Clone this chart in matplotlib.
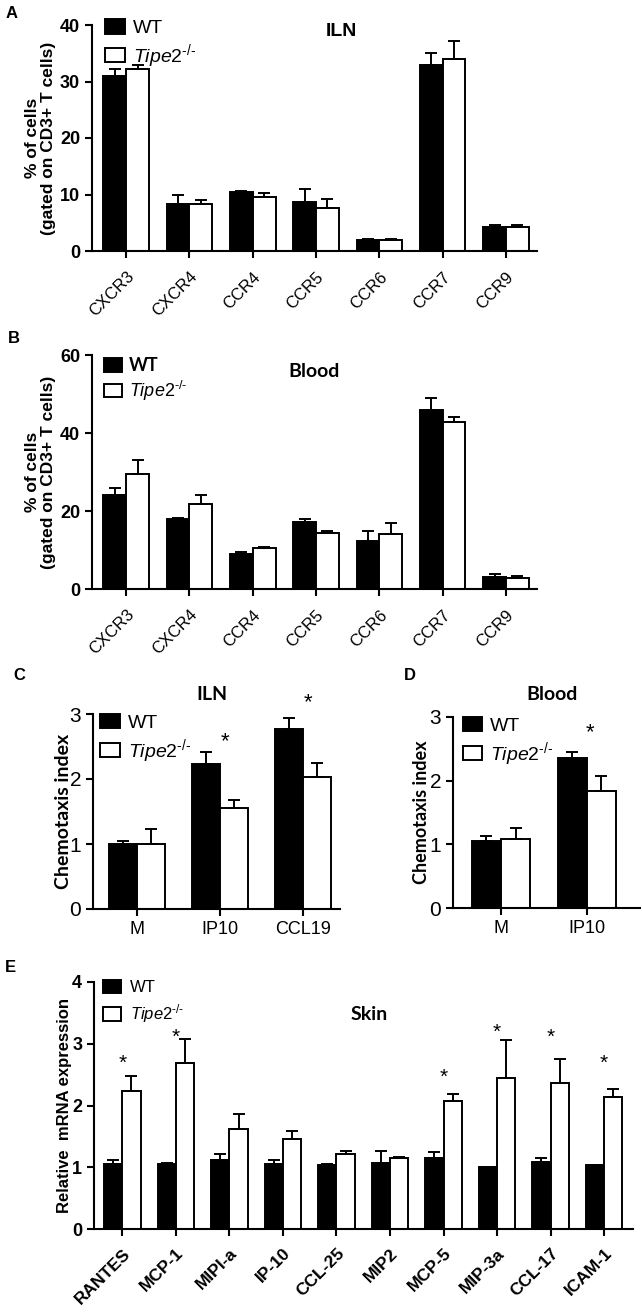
import matplotlib
matplotlib.use("Agg")
import matplotlib.pyplot as plt
import numpy as np

plt.rcParams['mathtext.fontset'] = 'custom'
plt.rcParams['mathtext.it'] = 'Liberation Sans:italic'
plt.rcParams['mathtext.rm'] = 'Liberation Sans'
plt.rcParams['mathtext.bf'] = 'Liberation Sans:bold'

NARROW = ['Liberation Sans Narrow', 'Liberation Sans', 'DejaVu Sans']
ARIAL = ['Liberation Sans', 'DejaVu Sans']
CALIBRI = ['Lato', 'Liberation Sans', 'DejaVu Sans']

# ---------------- data ----------------
receptors = ['CXCR3', 'CXCR4', 'CCR4', 'CCR5', 'CCR6', 'CCR7', 'CCR9']

iln_wt = [31.0, 8.4, 10.4, 8.7, 1.9, 33.0, 4.3]
iln_wt_err = [1.3, 1.6, 0.3, 2.3, 0.2, 2.0, 0.3]
iln_ko = [32.2, 8.3, 9.6, 7.6, 1.9, 33.9, 4.2]
iln_ko_err = [0.7, 0.7, 0.6, 1.6, 0.2, 3.2, 0.4]

blood_wt = [24.2, 18.0, 9.1, 17.3, 12.3, 45.8, 3.0]
blood_wt_err = [1.6, 0.3, 0.4, 0.6, 2.6, 3.2, 0.9]
blood_ko = [29.6, 21.8, 10.4, 14.4, 14.1, 42.7, 2.85]
blood_ko_err = [3.5, 2.3, 0.4, 0.5, 2.9, 1.3, 0.45]

chemo_iln_cats = ['M', 'IP10', 'CCL19']
chemo_iln_wt = [1.0, 2.23, 2.77]
chemo_iln_wt_err = [0.05, 0.18, 0.17]
chemo_iln_ko = [1.0, 1.55, 2.03]
chemo_iln_ko_err = [0.23, 0.13, 0.22]
chemo_iln_star_cats = ['IP10', 'CCL19']
chemo_iln_star_y = [2.58, 3.18]

chemo_blood_cats = ['M', 'IP10']
chemo_blood_wt = [1.05, 2.35]
chemo_blood_wt_err = [0.08, 0.1]
chemo_blood_ko = [1.09, 1.84]
chemo_blood_ko_err = [0.16, 0.23]
chemo_blood_star_cats = ['IP10']
chemo_blood_star_y = [2.75]

skin_genes = ['RANTES', 'MCP-1', 'MIPI-a', 'IP-10', 'CCL-25', 'MIP2',
              'MCP-5', 'MIP-3a', 'CCL-17', 'ICAM-1']
skin_wt = [1.06, 1.05, 1.12, 1.06, 1.03, 1.07, 1.15, 1.0, 1.09, 1.03]
skin_wt_err = [0.06, 0.02, 0.09, 0.06, 0.02, 0.2, 0.09, 0.0, 0.06, 0.01]
skin_ko = [2.23, 2.69, 1.62, 1.45, 1.21, 1.15, 2.07, 2.44, 2.36, 2.14]
skin_ko_err = [0.25, 0.38, 0.25, 0.13, 0.05, 0.01, 0.11, 0.62, 0.39, 0.12]
skin_star_genes = ['RANTES', 'MCP-1', 'MCP-5', 'MIP-3a', 'CCL-17', 'ICAM-1']
skin_star_y = [2.68, 3.1, 2.45, 3.19, 3.1, 2.68]

KO_LABEL = r'$\mathit{Tipe2}^{\text{-/-}}$'

W, H = 642, 1312
fig = plt.figure(figsize=(W / 100, H / 100), dpi=100)


def ax_px(l, t, r, b):
    return fig.add_axes([l / W, 1 - b / H, (r - l) / W, (b - t) / H])


def grouped(ax, cats, wt, wte, ko, koe, width, lw=1.4, cap=4):
    x = np.arange(len(cats))
    b1 = ax.bar(x - width / 2, wt, width, color='black', edgecolor='black',
                linewidth=lw, zorder=2)
    b2 = ax.bar(x + width / 2, ko, width, color='white', edgecolor='black',
                linewidth=lw, zorder=2)
    ax.errorbar(x - width / 2, wt, yerr=[np.zeros(len(wt)), wte], fmt='none',
                ecolor='black', elinewidth=lw, capsize=cap, capthick=lw, zorder=3)
    ax.errorbar(x + width / 2, ko, yerr=[np.zeros(len(ko)), koe], fmt='none',
                ecolor='black', elinewidth=lw, capsize=cap, capthick=lw, zorder=3)
    for s in ['top', 'right']:
        ax.spines[s].set_visible(False)
    for s in ['left', 'bottom']:
        ax.spines[s].set_linewidth(1.5)
    ax.tick_params(axis='both', direction='out', width=1.5, length=5)
    ax.set_xticks(x)
    return b1, b2


def style_yticks(ax, family, size, weight):
    for t in ax.get_yticklabels():
        t.set_fontfamily(family)
        t.set_fontsize(size)
        t.set_fontweight(weight)


# ---------------- Panel A ----------------
axA = ax_px(92, 25, 537, 251)
b1, b2 = grouped(axA, receptors, iln_wt, iln_wt_err, iln_ko, iln_ko_err, 0.36)
axA.set_xlim(-0.54, 6.49)
axA.set_ylim(0, 40)
axA.set_yticks([0, 10, 20, 30, 40])
axA.set_xticklabels(receptors, rotation=45, ha='right', rotation_mode='anchor',
                    fontsize=12, family=ARIAL)
axA.tick_params(axis='x', pad=8)
style_yticks(axA, NARROW, 13, 'bold')
axA.set_ylabel('% of cells\n(gated on CD3+ T cells)', fontsize=12.5, fontweight='bold',
               family=ARIAL, linespacing=1.1)
axA.yaxis.set_label_coords(-0.08, 0.5)
axA.legend([b1, b2], ['WT', KO_LABEL], loc='upper left', bbox_to_anchor=(0.03, 1.025),
           frameon=False, handlelength=1.0, handleheight=0.75, handletextpad=0.4,
           labelspacing=0.25, borderpad=0, borderaxespad=0,
           prop={'family': NARROW, 'size': 14})
axA.text(0.56, 0.97, 'ILN', transform=axA.transAxes, ha='center', va='center',
         fontsize=14, fontweight='bold', family=NARROW)
fig.text(12 / W, 1 - 14 / H, 'A', fontsize=12, fontweight='bold', family=ARIAL,
         ha='center', va='center')

# ---------------- Panel B ----------------
axB = ax_px(92, 355, 537, 589)
b1, b2 = grouped(axB, receptors, blood_wt, blood_wt_err, blood_ko, blood_ko_err, 0.36)
axB.set_xlim(-0.54, 6.49)
axB.set_ylim(0, 60)
axB.set_yticks([0, 20, 40, 60])
axB.set_xticklabels(receptors, rotation=45, ha='right', rotation_mode='anchor',
                    fontsize=12, family=ARIAL)
axB.tick_params(axis='x', pad=8)
style_yticks(axB, NARROW, 13, 'bold')
axB.set_ylabel('% of cells\n(gated on CD3+ T cells)', fontsize=12.5, fontweight='bold',
               family=ARIAL, linespacing=1.1)
axB.yaxis.set_label_coords(-0.08, 0.5)
axB.legend([b1, b2], ['WT', KO_LABEL], loc='upper left', bbox_to_anchor=(0.027, 0.99),
           frameon=False, handlelength=1.0, handleheight=0.75, handletextpad=0.4,
           labelspacing=0.25, borderpad=0, borderaxespad=0,
           prop={'family': CALIBRI, 'size': 13, 'weight': 'bold'})
axB.text(0.50, 0.93, 'Blood', transform=axB.transAxes, ha='center', va='center',
         fontsize=14, fontweight='bold', family=CALIBRI)
fig.text(14 / W, 1 - 339 / H, 'B', fontsize=12, fontweight='bold', family=ARIAL,
         ha='center', va='center')

# ---------------- Panel C ----------------
axC = ax_px(93, 714, 340, 909)
b1, b2 = grouped(axC, chemo_iln_cats, chemo_iln_wt, chemo_iln_wt_err,
                 chemo_iln_ko, chemo_iln_ko_err, 0.34)
axC.set_xlim(-0.53, 2.45)
axC.set_ylim(0, 3)
axC.set_yticks([0, 1, 2, 3])
axC.set_xticklabels(chemo_iln_cats, fontsize=13, family=NARROW)
style_yticks(axC, NARROW, 15, 'normal')
axC.set_ylabel('Chemotaxis index', fontsize=14, fontweight='bold', family=CALIBRI)
axC.yaxis.set_label_coords(-0.085, 0.5)
axC.legend([b1, b2], ['WT', KO_LABEL], loc='upper left', bbox_to_anchor=(0.03, 1.0),
           frameon=False, handlelength=1.0, handleheight=0.75, handletextpad=0.4,
           labelspacing=0.25, borderpad=0, borderaxespad=0,
           prop={'family': NARROW, 'size': 14})
for c, y in zip(chemo_iln_star_cats, chemo_iln_star_y):
    axC.text(chemo_iln_cats.index(c) + 0.06, y, '*', ha='center', va='center',
             fontsize=16, family=ARIAL, clip_on=False)
axC.text(0.48, 1.10, 'ILN', transform=axC.transAxes, ha='center', va='center',
         fontsize=14, fontweight='bold', family=CALIBRI)
fig.text(19 / W, 1 - 676 / H, 'C', fontsize=12, fontweight='bold', family=ARIAL,
         ha='center', va='center')

# ---------------- Panel D ----------------
axD = ax_px(453, 717, 640, 908)
b1, b2 = grouped(axD, chemo_blood_cats, chemo_blood_wt, chemo_blood_wt_err,
                 chemo_blood_ko, chemo_blood_ko_err, 0.34)
axD.set_xlim(-0.56, 1.62)
axD.set_ylim(0, 3)
axD.set_yticks([0, 1, 2, 3])
axD.set_xticklabels(chemo_blood_cats, fontsize=13, family=NARROW)
style_yticks(axD, NARROW, 15, 'normal')
axD.set_ylabel('Chemotaxis index', fontsize=13, fontweight='bold', family=CALIBRI)
axD.yaxis.set_label_coords(-0.123, 0.5)
axD.legend([b1, b2], ['WT', KO_LABEL], loc='upper left', bbox_to_anchor=(0.053, 1.0),
           frameon=False, handlelength=1.0, handleheight=0.75, handletextpad=0.4,
           labelspacing=0.25, borderpad=0, borderaxespad=0,
           prop={'family': NARROW, 'size': 14})
for c, y in zip(chemo_blood_star_cats, chemo_blood_star_y):
    axD.text(chemo_blood_cats.index(c) + 0.04, y, '*', ha='center', va='center',
             fontsize=16, family=ARIAL, clip_on=False)
axD.text(0.53, 1.12, 'Blood', transform=axD.transAxes, ha='center', va='center',
         fontsize=14, fontweight='bold', family=CALIBRI)
fig.text(410 / W, 1 - 676 / H, 'D', fontsize=12, fontweight='bold', family=ARIAL,
         ha='center', va='center')

# ---------------- Panel E ----------------
axE = ax_px(94, 982, 633, 1229)
b1, b2 = grouped(axE, skin_genes, skin_wt, skin_wt_err, skin_ko, skin_ko_err, 0.34)
axE.set_xlim(-0.53, 9.54)
axE.set_ylim(0, 4)
axE.set_yticks([0, 1, 2, 3, 4])
axE.set_xticklabels(skin_genes, rotation=45, ha='right', rotation_mode='anchor',
                    fontsize=12.5, fontweight='bold', family=ARIAL)
axE.tick_params(axis='x', pad=7)
style_yticks(axE, ARIAL, 13, 'bold')
axE.set_ylabel('Relative  mRNA expression', fontsize=12, fontweight='bold', family=ARIAL)
axE.yaxis.set_label_coords(-0.041, 0.5)
axE.legend([b1, b2], ['WT', KO_LABEL], loc='upper left', bbox_to_anchor=(0.017, 1.01),
           frameon=False, handlelength=1.1, handleheight=0.85, handletextpad=0.5,
           labelspacing=0.45, borderpad=0, borderaxespad=0,
           prop={'family': ARIAL, 'size': 12})
for g, y in zip(skin_star_genes, skin_star_y):
    axE.text(skin_genes.index(g), y, '*', ha='center', va='center',
             fontsize=15, family=ARIAL, clip_on=False)
axE.text(0.51, 0.87, 'Skin', transform=axE.transAxes, ha='center', va='center',
         fontsize=14, fontweight='bold', family=CALIBRI)
fig.text(10 / W, 1 - 968 / H, 'E', fontsize=12, fontweight='bold', family=ARIAL,
         ha='center', va='center')

fig.savefig('out.png', dpi=100)
